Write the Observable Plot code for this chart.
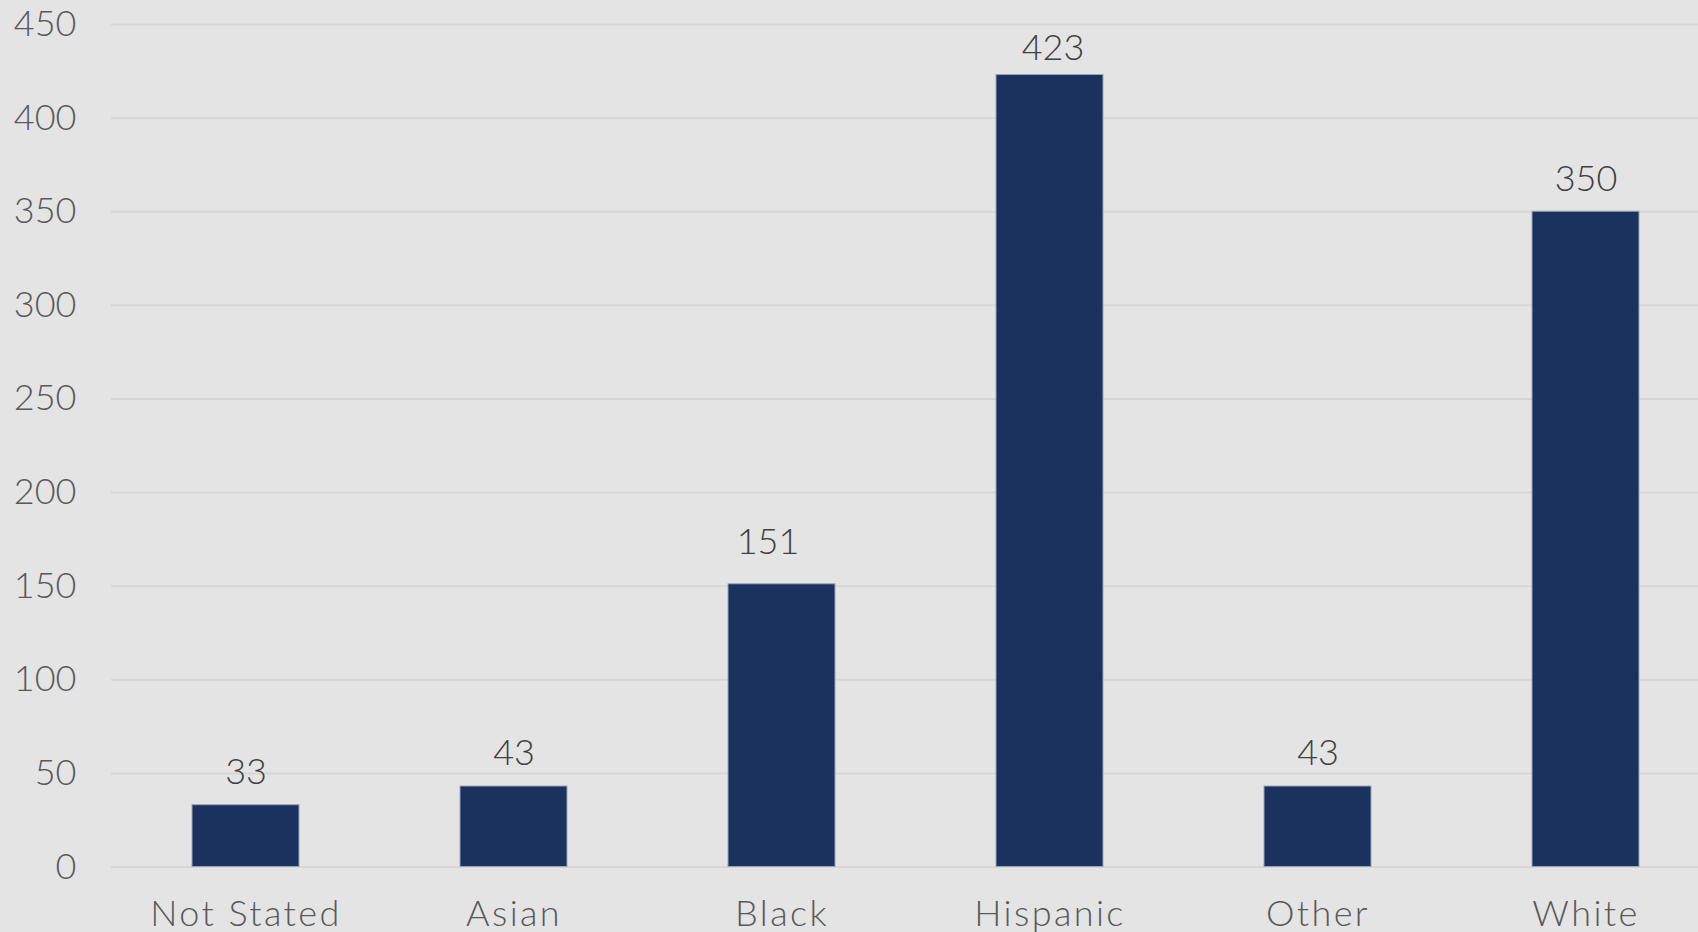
<!DOCTYPE html>
<html>
<head>
<meta charset="utf-8">
<script src="https://cdn.jsdelivr.net/npm/d3@7"></script>
<script src="https://cdn.jsdelivr.net/npm/@observablehq/plot@0.6"></script>
<style>
  html, body { margin: 0; padding: 0; background: #e4e4e4; overflow: hidden; }
  #chart svg { display: block; }
  #chart g[aria-label="x-axis tick label"] text { letter-spacing: 2.4px; }
  #chart text { font-weight: 300; }
</style>
</head>
<body>
<div id="chart"></div>
<script>
const categories = ["Not Stated", "Asian", "Black", "Hispanic", "Other", "White"];
const counts = [33, 43, 151, 423, 43, 350];
const yTicks = [0, 50, 100, 150, 200, 250, 300, 350, 400, 450];

const data = categories.map((c, i) => ({category: c, count: counts[i]}));

const fontFamily = "Lato, 'Open Sans', sans-serif";
const labelStyle = {x: "category", y: "count", text: d => String(d.count), lineAnchor: "bottom", fill: "#404040", fontSize: 36};

const chart = Plot.plot({
  width: 1698,
  height: 932,
  marginTop: 24,
  marginBottom: 65.5,
  marginLeft: 111,
  marginRight: 0,
  style: {background: "#e4e4e4", fontFamily, fontSize: "36px", overflow: "visible"},
  x: {domain: categories, range: [111, 1721], paddingInner: 0.6, paddingOuter: 0.3, label: null},
  y: {domain: [0, 450], ticks: yTicks, label: null},
  marks: [
    Plot.ruleY(yTicks, {stroke: "#d6d6d6", strokeWidth: 2}),
    Plot.barY(data, {x: "category", y: "count", fill: "#1b315e", stroke: "#9aa4b8", strokeWidth: 1}),
    Plot.text(data, {...labelStyle, filter: d => d.category !== "Black" && d.category !== "Hispanic", dy: -21}),
    Plot.text(data, {...labelStyle, filter: d => d.category === "Black", dy: -30, dx: -14}),
    Plot.text(data, {...labelStyle, filter: d => d.category === "Hispanic", dy: -15, dx: 3}),
    Plot.axisY({ticks: yTicks, tickSize: 0, tickPadding: 35, fill: "#595959", fontSize: 36, label: null}),
    Plot.axisX({tickSize: 0, tickPadding: 33, fill: "#595959", fontSize: 36, label: null})
  ]
});
document.getElementById("chart").appendChild(chart);
</script>
</body>
</html>
